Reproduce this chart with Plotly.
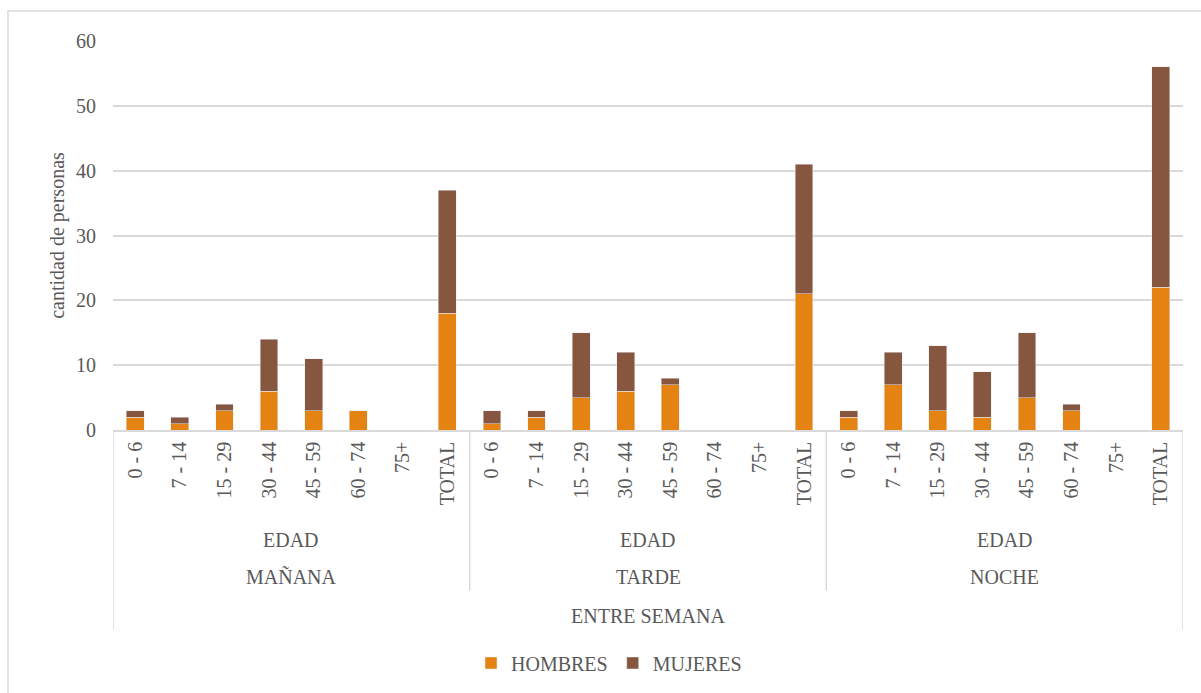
import plotly.graph_objects as go

# Data: people counted by age band, for each time of day (weekdays)
periodos = ["MAÑANA", "TARDE", "NOCHE"]
edades = ["0 - 6", "7 - 14", "15 - 29", "30 - 44", "45 - 59", "60 - 74", "75+", "TOTAL"]
hombres = {
    "MAÑANA": [2, 1, 3, 6, 3, 3, 0, 18],
    "TARDE": [1, 2, 5, 6, 7, 0, 0, 21],
    "NOCHE": [2, 7, 3, 2, 5, 3, 0, 22],
}
mujeres = {
    "MAÑANA": [1, 1, 1, 8, 8, 0, 0, 19],
    "TARDE": [2, 1, 10, 6, 1, 0, 0, 20],
    "NOCHE": [1, 5, 10, 7, 10, 1, 0, 34],
}
grupo_medio = "EDAD"
grupo_superior = "ENTRE SEMANA"
y_ticks = [0, 10, 20, 30, 40, 50, 60]

# Flatten into one slot per (period, age band)
pos, etiquetas, h_vals, m_vals = [], [], [], []
for i, p in enumerate(periodos):
    for j, e in enumerate(edades):
        pos.append(i * len(edades) + j)
        etiquetas.append(e)
        h_vals.append(hombres[p][j])
        m_vals.append(mujeres[p][j])

FONT = "Liberation Serif"
TXT = "#595959"
GRID = "#d9d9d9"
FS = 20

W, H = 1201, 693
ML, MR, MT, MB = 113, 18, 41, 262
PW, PH = W - ML - MR, H - MT - MB


def py(pix):
    """Pixel row -> paper y."""
    return (H - MB - pix) / PH


def px(pix):
    """Pixel column -> paper x."""
    return (pix - ML) / PW


fig = go.Figure()
fig.add_trace(go.Bar(x=pos, y=h_vals, name="HOMBRES", marker=dict(color="#E48312"), width=0.4))
fig.add_trace(go.Bar(x=pos, y=m_vals, name="MUJERES", marker=dict(color="#86563F"), width=0.4))

n = len(pos)
shapes = []
# outer chart border
shapes.append(dict(type="rect", xref="paper", yref="paper",
                   x0=px(8), x1=px(1215), y0=py(705), y1=py(11),
                   line=dict(color=GRID, width=1.5), fillcolor="rgba(0,0,0,0)", layer="below"))
# category table dividers
ng = len(edades)
for k in range(len(periodos) + 1):
    xb = k * ng - 0.5
    outer = k in (0, len(periodos))
    shapes.append(dict(type="line", xref="x", yref="paper", x0=xb, x1=xb,
                       y0=0, y1=py(631 if outer else 592),
                       line=dict(color=GRID, width=1.5)))

annotations = []
for i, p in enumerate(periodos):
    cx = i * ng + (ng - 1) / 2
    annotations.append(dict(x=cx, y=py(541), xref="x", yref="paper", text=grupo_medio,
                            xanchor="center", yanchor="middle", showarrow=False,
                            font=dict(family=FONT, size=FS, color=TXT)))
    annotations.append(dict(x=cx, y=py(578), xref="x", yref="paper", text=p,
                            xanchor="center", yanchor="middle", showarrow=False,
                            font=dict(family=FONT, size=FS, color=TXT)))
annotations.append(dict(x=(n - 1) / 2, y=py(617), xref="x", yref="paper", text=grupo_superior,
                        xanchor="center", yanchor="middle", showarrow=False,
                        font=dict(family=FONT, size=FS, color=TXT)))

fig.update_layout(
    width=W, height=H,
    margin=dict(l=ML, r=MR, t=MT, b=MB),
    barmode="stack",
    plot_bgcolor="white", paper_bgcolor="white",
    font=dict(family=FONT, size=FS, color=TXT),
    shapes=shapes,
    annotations=annotations,
    legend=dict(orientation="h", x=px(609), xanchor="center", y=py(663), yanchor="middle",
                font=dict(family=FONT, size=FS, color=TXT), traceorder="normal",
                itemwidth=30),
    xaxis=dict(range=[-0.5, n - 0.5], tickmode="array", tickvals=pos, ticktext=etiquetas,
               tickangle=-90, showgrid=False, zeroline=False, showline=True,
               linecolor=GRID, linewidth=1.5, ticks="", ticklabelstandoff=2,
               tickfont=dict(family=FONT, size=FS, color=TXT)),
    yaxis=dict(range=[0, 60], tickvals=y_ticks, showgrid=True, gridcolor=GRID, gridwidth=1.5,
               zeroline=False, showline=False, ticks="", ticklabelstandoff=16,
               tickfont=dict(family=FONT, size=FS, color=TXT),
               title=dict(text="cantidad de personas", standoff=6,
                          font=dict(family=FONT, size=FS, color=TXT))),
)

fig.write_html("out.html")
